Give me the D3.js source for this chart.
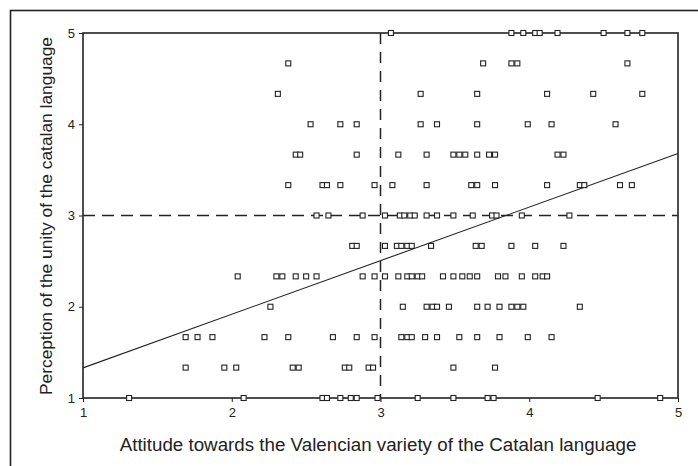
<!DOCTYPE html>
<html>
  <head>
    <script src="https://d3js.org/d3.v7.min.js"></script>
    <style>
      html, body { margin: 0; padding: 0; background: #fff; }
      svg { display: block; font-family: 'Liberation Sans', Arial, sans-serif; }
    </style>
  </head>
  <body>
    <div id="chart"></div>
    <script>
      // scatter points, one list of x values per level of y (y in thirds)
      var rowLevels = [5, 4.667, 4.333, 4, 3.667, 3.333, 3, 2.667, 2.333, 2, 1.667, 1.333, 1];
      var row5 = [3.07, 3.88, 3.96, 4.04, 4.07, 4.19, 4.50, 4.66, 4.76];
      var row467 = [2.38, 3.69, 3.88, 3.92, 4.66];
      var row433 = [2.31, 3.27, 3.65, 4.12, 4.43, 4.76];
      var row4 = [2.53, 2.73, 2.84, 3.27, 3.38, 3.65, 3.99, 4.15, 4.58];
      var row367 = [2.43, 2.46, 2.84, 3.12, 3.31, 3.49, 3.53, 3.57, 3.65, 3.73, 3.77, 4.19, 4.23];
      var row333 = [2.38, 2.61, 2.64, 2.73, 2.96, 3.08, 3.31, 3.61, 3.65, 3.77, 4.12, 4.34, 4.37, 4.61, 4.69];
      var row3 = [2.57, 2.65, 2.88, 3.03, 3.13, 3.16, 3.20, 3.23, 3.31, 3.38, 3.49, 3.62, 3.75, 3.78, 3.95, 4.27];
      var row267 = [2.81, 2.84, 3.03, 3.11, 3.14, 3.18, 3.21, 3.34, 3.64, 3.68, 3.88, 4.04, 4.23];
      var row233 = [2.04, 2.30, 2.34, 2.43, 2.50, 2.57, 2.88, 2.96, 3.03, 3.12, 3.18, 3.21, 3.25, 3.28,
                    3.42, 3.49, 3.55, 3.60, 3.65, 3.79, 3.84, 3.95, 4.04, 4.09, 4.12];
      var row2 = [2.26, 3.15, 3.31, 3.35, 3.38, 3.46, 3.65, 3.72, 3.80, 3.88, 3.92, 3.96, 4.34];
      var row167 = [1.69, 1.77, 1.87, 2.22, 2.38, 2.68, 2.84, 2.96, 3.14, 3.18, 3.21, 3.30, 3.38,
                    3.53, 3.65, 3.80, 3.99, 4.15];
      var row133 = [1.69, 1.95, 2.03, 2.41, 2.45, 2.76, 2.79, 2.92, 2.95, 3.49, 3.77];
      var row1 = [1.31, 2.08, 2.61, 2.64, 2.73, 2.80, 2.84, 2.98, 3.25, 3.49, 3.72, 3.76, 4.46, 4.88];
      var rows = [row5, row467, row433, row4, row367, row333, row3, row267, row233, row2, row167, row133, row1];

      var xTicks = [1, 2, 3, 4, 5];
      var yTicks = [1, 2, 3, 4, 5];
      var fitCoef = [0.7425, 0.5875]; // intercept, slope of the fitted line
      var refX = 3, refY = 3;

      var xTitle = "Attitude towards the Valencian variety of the Catalan language";
      var yTitle = "Perception of the unity of the catalan language";

      var width = 698, height = 466;
      var margin = { top: 33, right: 20, bottom: 68, left: 83 };
      var ink = "#222";

      var points = [];
      rows.forEach(function (r, i) {
        r.forEach(function (x) { points.push({ x: x, y: rowLevels[i] }); });
      });

      var svg = d3.select("#chart").append("svg")
        .attr("width", width).attr("height", height);

      // outer frame (runs off the right and bottom edges)
      svg.append("rect")
        .attr("x", 10.5).attr("y", 10.5)
        .attr("width", 720).attr("height", 480)
        .attr("fill", "none").attr("stroke", ink).attr("stroke-width", 1.6);

      var x = d3.scaleLinear().domain([1, 5]).range([margin.left, width - margin.right]);
      var y = d3.scaleLinear().domain([1, 5]).range([height - margin.bottom, margin.top]);

      var g = svg.append("g");

      // reference lines
      g.append("line")
        .attr("x1", x(1)).attr("x2", x(5))
        .attr("y1", y(refY)).attr("y2", y(refY))
        .attr("stroke", ink).attr("stroke-width", 1.3)
        .attr("stroke-dasharray", "12,7");
      g.append("line")
        .attr("x1", x(refX)).attr("x2", x(refX))
        .attr("y1", y(5)).attr("y2", y(1))
        .attr("stroke", ink).attr("stroke-width", 1.5)
        .attr("stroke-dasharray", "11,8");

      // fitted line
      g.append("line")
        .attr("x1", x(1)).attr("x2", x(5))
        .attr("y1", y(fitCoef[0] + fitCoef[1] * 1))
        .attr("y2", y(fitCoef[0] + fitCoef[1] * 5))
        .attr("stroke", ink).attr("stroke-width", 1.1);

      // axes
      var xAxis = d3.axisBottom(x).tickValues(xTicks).tickSize(4).tickFormat(d3.format("d"));
      var yAxis = d3.axisLeft(y).tickValues(yTicks).tickSize(4).tickFormat(d3.format("d"));

      var gx = svg.append("g")
        .attr("transform", "translate(0," + y(1) + ")")
        .call(xAxis);
      var gy = svg.append("g")
        .attr("transform", "translate(" + x(1) + ",0)")
        .call(yAxis);
      [gx, gy].forEach(function (a) {
        a.select(".domain").remove();
        a.selectAll("line").attr("stroke", ink);
        a.selectAll("text")
          .attr("fill", ink)
          .style("font-size", "13px")
          .style("font-family", "'Liberation Sans', Arial, sans-serif");
      });
      gx.selectAll("text").attr("dy", "0.95em");
      gy.selectAll("text").attr("x", -8);

      // plot border
      svg.append("rect")
        .attr("x", x(1)).attr("y", y(5))
        .attr("width", x(5) - x(1)).attr("height", y(1) - y(5))
        .attr("fill", "none").attr("stroke", ink).attr("stroke-width", 1.6);

      // points
      svg.append("g").selectAll("rect.pt")
        .data(points)
        .enter().append("rect")
        .attr("class", "pt")
        .attr("x", function (d) { return x(d.x) - 2.5; })
        .attr("y", function (d) { return y(d.y) - 2.5; })
        .attr("width", 5).attr("height", 5)
        .attr("fill", "#fff")
        .attr("stroke", ink).attr("stroke-width", 1.1);

      // titles
      var xt = svg.append("text")
        .attr("x", 378).attr("y", 451)
        .attr("text-anchor", "middle")
        .attr("fill", ink)
        .style("font-size", "16px")
        .text(xTitle);
      var w = xt.node().getComputedTextLength();
      xt.style("font-size", (16 * 517 / w).toFixed(2) + "px");

      var yt = svg.append("text")
        .attr("transform", "translate(52,216) rotate(-90)")
        .attr("text-anchor", "middle")
        .attr("fill", ink)
        .style("font-size", "16px")
        .text(yTitle);
      var h = yt.node().getComputedTextLength();
      yt.style("font-size", (16 * 358 / h).toFixed(2) + "px");
    </script>
  </body>
</html>
